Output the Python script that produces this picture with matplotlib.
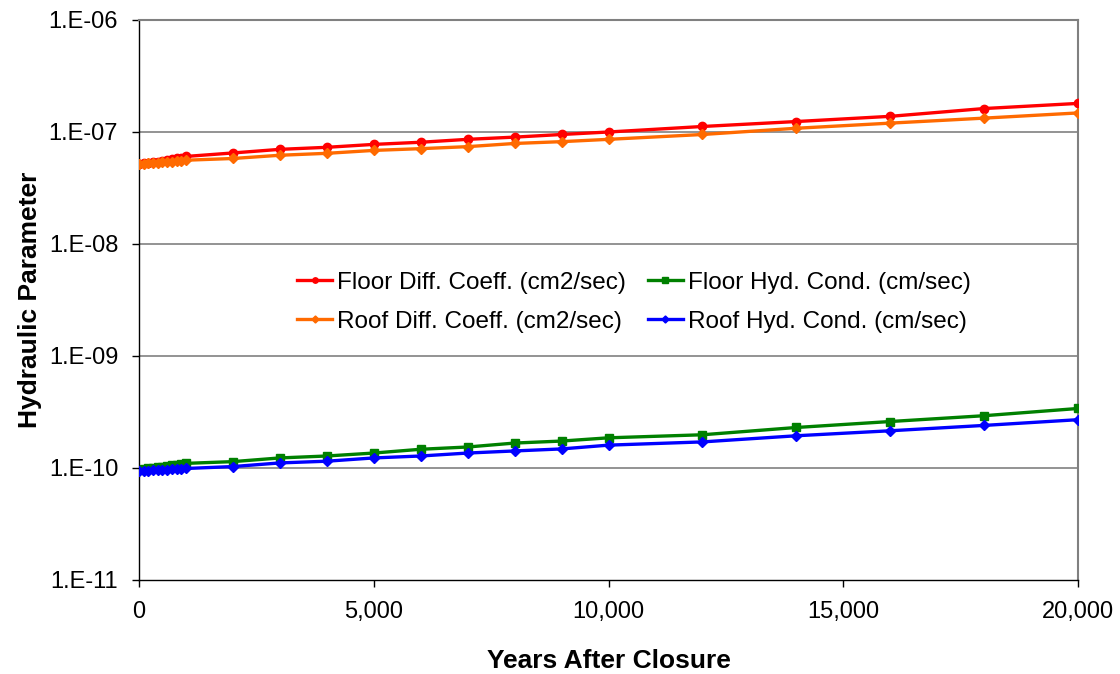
import matplotlib
matplotlib.use("Agg")
import matplotlib.pyplot as plt
from matplotlib.ticker import FixedLocator, FuncFormatter, NullLocator

plt.rcParams['font.family'] = ['Liberation Sans', 'DejaVu Sans']

years = [0, 100, 200, 300, 400, 500, 600, 700, 800, 900, 1000,
         2000, 3000, 4000, 5000, 6000, 7000, 8000, 9000, 10000,
         12000, 14000, 16000, 18000, 20000]

floor_diff = [5.2e-8, 5.25e-8, 5.3e-8, 5.4e-8, 5.45e-8, 5.55e-8, 5.6e-8, 5.7e-8, 5.8e-8, 5.9e-8, 6.05e-8,
              6.5e-8, 7.0e-8, 7.3e-8, 7.75e-8, 8.1e-8, 8.6e-8, 9.0e-8, 9.5e-8, 1.0e-7,
              1.12e-7, 1.24e-7, 1.38e-7, 1.62e-7, 1.80e-7]
roof_diff = [5.2e-8, 5.22e-8, 5.25e-8, 5.3e-8, 5.33e-8, 5.37e-8, 5.4e-8, 5.45e-8, 5.5e-8, 5.55e-8, 5.6e-8,
             5.8e-8, 6.2e-8, 6.45e-8, 6.85e-8, 7.1e-8, 7.4e-8, 7.9e-8, 8.2e-8, 8.6e-8,
             9.5e-8, 1.08e-7, 1.2e-7, 1.33e-7, 1.48e-7]
floor_hyd = [9.5e-11, 9.7e-11, 9.9e-11, 1.0e-10, 1.02e-10, 1.03e-10, 1.05e-10, 1.06e-10, 1.07e-10, 1.08e-10, 1.1e-10,
             1.14e-10, 1.23e-10, 1.28e-10, 1.36e-10, 1.47e-10, 1.54e-10, 1.67e-10, 1.74e-10, 1.86e-10,
             1.98e-10, 2.3e-10, 2.6e-10, 2.93e-10, 3.4e-10]
roof_hyd = [9.4e-11, 9.4e-11, 9.45e-11, 9.5e-11, 9.55e-11, 9.6e-11, 9.65e-11, 9.7e-11, 9.75e-11, 9.8e-11, 9.9e-11,
            1.03e-10, 1.11e-10, 1.15e-10, 1.23e-10, 1.28e-10, 1.36e-10, 1.42e-10, 1.48e-10, 1.6e-10,
            1.71e-10, 1.94e-10, 2.15e-10, 2.4e-10, 2.7e-10]

labels = ['Floor Diff. Coeff. (cm2/sec)', 'Roof Diff. Coeff. (cm2/sec)',
          'Floor Hyd. Cond. (cm/sec)', 'Roof Hyd. Cond. (cm/sec)']
y_ticks = [1e-11, 1e-10, 1e-9, 1e-8, 1e-7, 1e-6]
y_tick_labels = ['1.E-11', '1.E-10', '1.E-09', '1.E-08', '1.E-07', '1.E-06']
x_ticks = [0, 5000, 10000, 15000, 20000]

fig = plt.figure(figsize=(11.2, 6.74), dpi=100)
ax = fig.add_axes([139/1120, 1-580/674, (1078-139)/1120, (580-20)/674])

lw = 2.4
ax.plot(years, floor_diff, color='#FF0000', marker='o', markersize=6, lw=lw, label=labels[0], zorder=3)
ax.plot(years, roof_diff, color='#FF6A00', marker='D', markersize=5.5, lw=lw, label=labels[1], zorder=3)
ax.plot(years, floor_hyd, color='#008000', marker='s', markersize=6, lw=lw, label=labels[2], zorder=3)
ax.plot(years, roof_hyd, color='#0000FF', marker='D', markersize=5.5, lw=lw, label=labels[3], zorder=3)

ax.set_yscale('log')
ax.set_ylim(1e-11, 1e-6)
ax.set_xlim(0, 20000)
ax.yaxis.set_major_locator(FixedLocator(y_ticks))
ax.yaxis.set_minor_locator(NullLocator())
ax.set_yticks(y_ticks)
ax.set_yticklabels(y_tick_labels)
ax.set_xticks(x_ticks)
ax.xaxis.set_major_formatter(FuncFormatter(lambda v, p: f'{int(v):,}'))

for yv in y_ticks[1:-1]:
    ax.axhline(yv, color='#808080', lw=1.2, zorder=1)

ax.spines['top'].set_color('#808080')
ax.spines['right'].set_color('#808080')
ax.spines['top'].set_linewidth(1.5)
ax.spines['right'].set_linewidth(1.5)
ax.spines['left'].set_color('black')
ax.spines['bottom'].set_color('black')
ax.spines['left'].set_linewidth(1.0)
ax.spines['bottom'].set_linewidth(1.0)

ax.tick_params(axis='both', direction='out', length=5, width=1, labelsize=17, colors='black')
ax.tick_params(axis='x', pad=10)
ax.tick_params(axis='y', pad=10)

ax.set_xlabel('Years After Closure', fontsize=19, fontweight='bold', labelpad=19)
ax.set_ylabel('Hydraulic Parameter', fontsize=19, fontweight='bold', labelpad=5)

h, l = ax.get_legend_handles_labels()
leg = ax.legend(h, l, ncol=2, frameon=False,
                fontsize=17.5, loc='center', bbox_to_anchor=(0.527, 0.496),
                handlelength=1.45, handletextpad=0.2, columnspacing=0.9, labelspacing=0.68,
                markerscale=0.65)

fig.savefig('out.png', dpi=100, facecolor='white')
